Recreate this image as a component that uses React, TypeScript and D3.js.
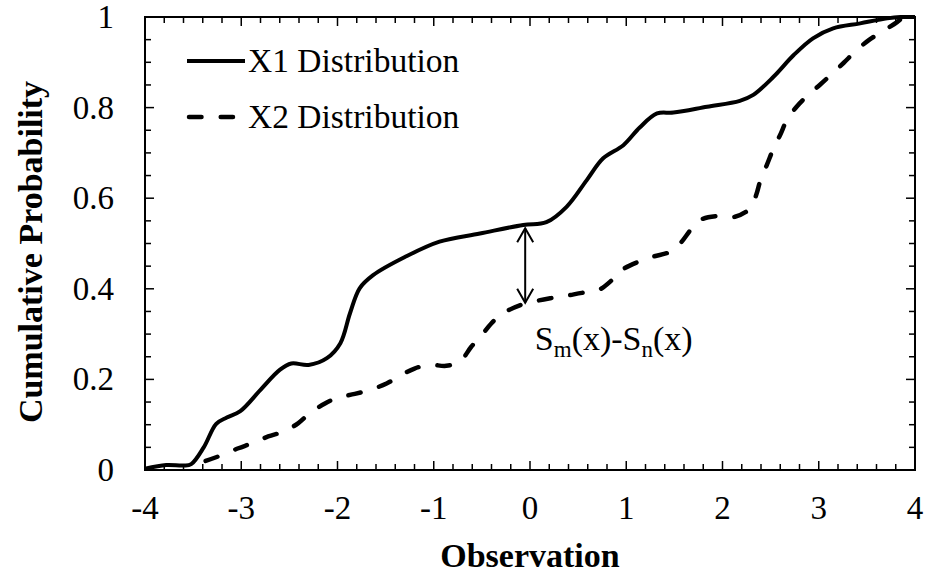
import React from "react";
import * as d3 from "d3";

const x1Obs = [-4, -3.78, -3.6, -3.52, -3.39, -3.26, -3.15, -3.01, -2.8, -2.6, -2.48, -2.3, -2.11, -1.97, -1.87, -1.77, -1.63, -1.3, -0.94, -0.52, -0.07, 0.17, 0.38, 0.59, 0.76, 0.97, 1.14, 1.32, 1.49, 1.84, 2.18, 2.32, 2.53, 2.74, 2.94, 3.15, 3.43, 3.71, 3.85, 4];
const x1Prob = [0.003, 0.011, 0.01, 0.013, 0.05, 0.102, 0.116, 0.13, 0.177, 0.221, 0.235, 0.232, 0.247, 0.28, 0.346, 0.401, 0.43, 0.47, 0.504, 0.522, 0.541, 0.547, 0.581, 0.64, 0.688, 0.717, 0.756, 0.787, 0.789, 0.802, 0.815, 0.828, 0.868, 0.916, 0.953, 0.975, 0.986, 0.997, 1.0, 1.0];

const x2Obs = [-3.37, -3.2, -3.03, -2.89, -2.72, -2.56, -2.41, -2.29, -2.13, -1.99, -1.82, -1.66, -1.49, -1.35, -1.2, -1.04, -0.87, -0.73, -0.61, -0.5, -0.4, -0.28, -0.1, 0.04, 0.21, 0.36, 0.54, 0.71, 0.85, 0.95, 1.13, 1.28, 1.46, 1.56, 1.68, 1.78, 1.97, 2.13, 2.29, 2.35, 2.4, 2.46, 2.53, 2.6, 2.67, 2.77, 2.89, 3.01, 3.15, 3.26, 3.39, 3.52, 3.66, 3.81, 3.86];
const x2Prob = [0.02, 0.033, 0.048, 0.059, 0.074, 0.085, 0.103, 0.125, 0.147, 0.16, 0.168, 0.177, 0.191, 0.208, 0.224, 0.232, 0.23, 0.239, 0.272, 0.298, 0.324, 0.346, 0.364, 0.372, 0.379, 0.384, 0.391, 0.397, 0.419, 0.441, 0.46, 0.471, 0.482, 0.5, 0.533, 0.553, 0.561, 0.559, 0.578, 0.607, 0.644, 0.673, 0.71, 0.74, 0.773, 0.802, 0.828, 0.85, 0.877, 0.899, 0.926, 0.949, 0.968, 0.988, 0.997];

const xTickValues = [-4, -3, -2, -1, 0, 1, 2, 3, 4];
const yTickValues = [0, 0.2, 0.4, 0.6, 0.8, 1];
const yTickLabels = ["0", "0.2", "0.4", "0.6", "0.8", "1"];
const seriesNames = ["X1 Distribution", "X2 Distribution"];

const arrowObs = -0.05;
const arrowTop = 0.536;
const arrowBottom = 0.367;
const labelObs = 0.05;
const labelProb = 0.265;

const W = 926;
const H = 573;
const L = 145, R = 915, T = 17, B = 470;

export default function App() {
  const x = d3.scaleLinear().domain([-4, 4]).range([L, R]);
  const y = d3.scaleLinear().domain([0, 1]).range([B, T]);
  const line = d3
    .line<[number, number]>()
    .x((d) => x(d[0]))
    .y((d) => y(d[1]))
    .curve(d3.curveCatmullRom.alpha(0.5));
  const s1 = x1Obs.map((v, i) => [v, x1Prob[i]] as [number, number]);
  const s2 = x2Obs.map((v, i) => [v, x2Prob[i]] as [number, number]);

  const xMinor = d3.range(-4, 4.0001, 0.2);
  const yMinor = d3.range(0, 1.0001, 0.05);
  const font = "'Liberation Serif', 'Times New Roman', serif";

  const ax = x(arrowObs);
  const at = y(arrowTop);
  const ab = y(arrowBottom);
  const dash = "12.5 19.2";

  return (
    <svg width={W} height={H} style={{ position: "absolute", left: 0, top: 0, background: "#fff" }} fontFamily={font}>
      <rect x={0} y={0} width={W} height={H} fill="#fff" />
      {xMinor.map((v, i) => {
        const major = Math.abs(v - Math.round(v)) < 1e-6;
        const len = major ? 9 : 6;
        return (
          <g key={"xt" + i} stroke="#000" strokeWidth={1.5}>
            <line x1={x(v)} x2={x(v)} y1={B} y2={B - len} />
            <line x1={x(v)} x2={x(v)} y1={T} y2={T + len} />
          </g>
        );
      })}
      {yMinor.map((v, i) => {
        const major = Math.abs(v * 5 - Math.round(v * 5)) < 1e-6;
        const len = major ? 9 : 6;
        return (
          <g key={"yt" + i} stroke="#000" strokeWidth={1.5}>
            <line x1={L} x2={L + len} y1={y(v)} y2={y(v)} />
            <line x1={R} x2={R - len} y1={y(v)} y2={y(v)} />
          </g>
        );
      })}
      <rect x={L} y={T} width={R - L} height={B - T} fill="none" stroke="#000" strokeWidth={2} />

      <path d={line(s1) || ""} fill="none" stroke="#000" strokeWidth={4} strokeLinejoin="round" />
      <path d={line(s2) || ""} fill="none" stroke="#000" strokeWidth={4.5} strokeDasharray={dash} strokeLinecap="round" />

      <g stroke="#000" strokeWidth={2} fill="none">
        <line x1={ax} x2={ax} y1={at + 1} y2={ab - 1} />
        <polyline points={`${ax - 8},${at + 15} ${ax},${at + 1} ${ax + 8},${at + 15}`} />
        <polyline points={`${ax - 8},${ab - 15} ${ax},${ab - 1} ${ax + 8},${ab - 15}`} />
      </g>
      <text x={x(labelObs)} y={y(labelProb)} fontSize={34} fill="#000">
        S<tspan fontSize={23} dy={7}>m</tspan>
        <tspan dy={-7}>(x)-S</tspan>
        <tspan fontSize={23} dy={7}>n</tspan>
        <tspan dy={-7}>(x)</tspan>
      </text>

      <line x1={187} x2={245} y1={61} y2={61} stroke="#000" strokeWidth={4} />
      <text x={248} y={72} fontSize={33.5} fill="#000">{seriesNames[0]}</text>
      <line x1={189} x2={233} y1={117} y2={117} stroke="#000" strokeWidth={4.5} strokeDasharray={dash} strokeLinecap="round" />
      <text x={248} y={128} fontSize={33.5} fill="#000">{seriesNames[1]}</text>

      {xTickValues.map((v) => (
        <text key={"xl" + v} x={x(v)} y={519} fontSize={33} textAnchor="middle" fill="#000">{v}</text>
      ))}
      {yTickValues.map((v, i) => (
        <text key={"yl" + v} x={114} y={y(v) + 11} fontSize={33} textAnchor="end" fill="#000">{yTickLabels[i]}</text>
      ))}

      <text x={530} y={567} fontSize={34} fontWeight="bold" textAnchor="middle" fill="#000">Observation</text>
      <text transform={`translate(42,252) rotate(-90)`} fontSize={34} fontWeight="bold" textAnchor="middle" fill="#000">Cumulative Probability</text>
    </svg>
  );
}
